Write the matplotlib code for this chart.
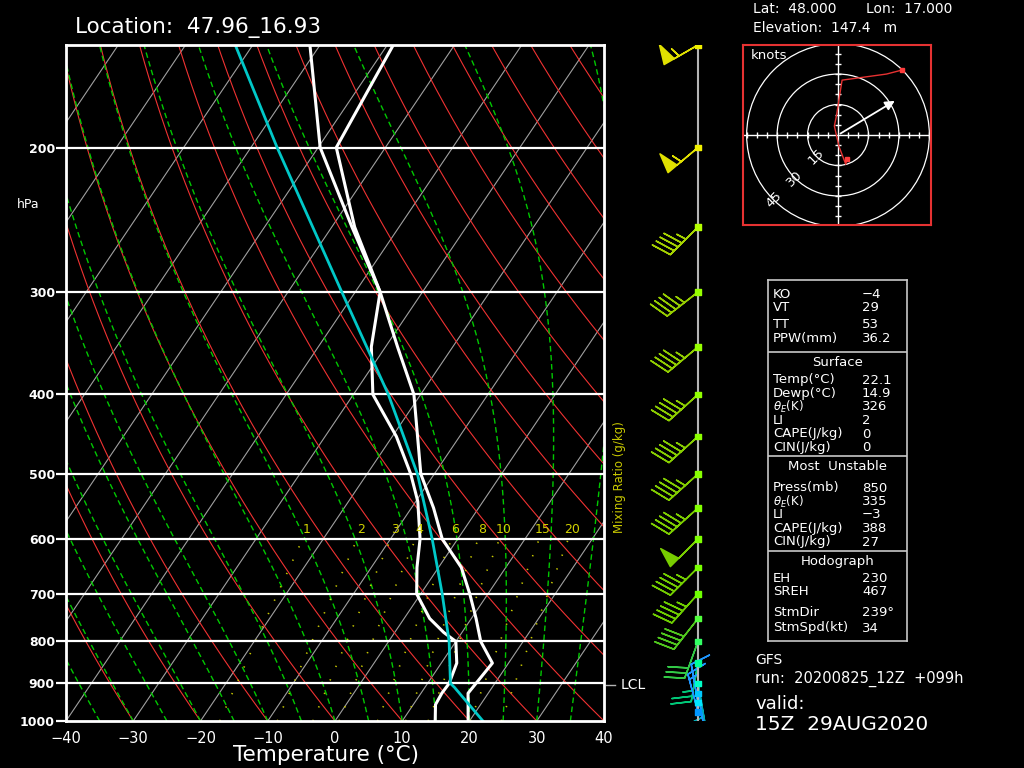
import numpy as np
import matplotlib
matplotlib.use('Agg')
import matplotlib.pyplot as plt
from matplotlib.transforms import Affine2D
from matplotlib.patches import Circle

# environmental sounding (hPa, degC)
p_temp = [1000, 925, 850, 800, 750, 700, 650, 600, 550, 500, 400, 350, 300, 250, 200, 150]
temp = [19.8, 17.0, 17.6, 13.7, 10.7, 7.3, 3.4, -2.3, -6.7, -12.0, -21.0, -28.2, -36.3, -46.6, -57.3, -59.1]

p_dewp = [1000, 955, 925, 900, 850, 800, 780, 750, 700, 650, 600, 540, 500, 450, 400, 350, 300, 250, 200, 150]
dewp = [14.9, 13.3, 13.1, 13.2, 12.3, 10.0, 7.3, 3.8, -0.6, -3.2, -5.6, -9.7, -13.5, -19.4, -27.1, -32.1, -36.3, -47.0, -59.7, -71.5]

# surface parcel path
p_parcel = [1000, 910, 900, 800, 700, 600, 500, 400, 300, 200, 150]
parcel = [22.0, 14.4, 13.4, 9.0, 3.2, -3.8, -12.5, -24.8, -42.0, -66.1, -82.6]
lcl_p = 903

# winds (knots, direction from)
p_wind = [150, 200, 250, 300, 350, 400, 450, 500, 550, 600, 650, 700, 750, 800, 850, 900, 925, 950, 975]
wspd = [55, 55, 45, 45, 45, 45, 45, 45, 45, 50, 45, 45, 40, 30, 25, 20, 10, 10, 15]
wdir = [240, 230, 225, 232, 230, 228, 228, 228, 228, 225, 225, 222, 218, 200, 190, 170, 170, 350, 345]
barb_cols = ['#e1e100', '#e1e100', '#a5d200', '#96cd00', '#91cd00', '#8ccd00', '#87cd00', '#82cd00',
             '#7dcd00', '#78cd00', '#73cd00', '#6ecd00', '#50c81e', '#32c846', '#00c878', '#00aab4',
             '#1e96ff', '#1e96ff', '#1e96ff']
dot_cols = ['#f0f000', '#f0f000', '#b4ff00', '#96ff00', '#96ff00', '#91ff00', '#8cff00', '#87ff00',
            '#82ff00', '#7dff00', '#78ff00', '#6eff00', '#50ff3c', '#32ff64', '#00ff96', '#00ffc8',
            '#00c8ff', '#00e6ff', '#0096ff']

# hodograph (knots)
hodo_u = [4.4, 3.8, 0.5, -1.8, -0.7, 0.7, 2.0, 23.9, 31.6]
hodo_v = [-11.8, -14.4, -5.7, 4.4, 9.8, 18.9, 27.0, 30.0, 32.0]
stm_dir, stm_spd = 239, 34

mix_ratios = [1, 2, 3, 4, 6, 8, 10, 15, 20]
p_ticks = [200, 300, 400, 500, 600, 700, 800, 900, 1000]
t_ticks = [-40, -30, -20, -10, 0, 10, 20, 30, 40]

index_rows = [
    ('item', 'KO', '\u22124', 14), ('item', 'VT', '29', 13.5),
    ('item', 'TT', '53', 17.5), ('item', 'PPW(mm)', '36.2', 13.5),
    ('line', '', '', 13.5),
    ('head', 'Surface', '', 10),
    ('item', 'Temp(\u00b0C)', '22.1', 18), ('item', 'Dewp(\u00b0C)', '14.9', 13.5),
    ('item', r'$\theta_E$(K)', '326', 13.5), ('item', 'LI', '2', 13.5),
    ('item', 'CAPE(J/kg)', '0', 13.5), ('item', 'CIN(J/kg)', '0', 13.5),
    ('line', '', '', 8.5),
    ('head', 'Most  Unstable', '', 10),
    ('item', 'Press(mb)', '850', 22), ('item', r'$\theta_E$(K)', '335', 13.5),
    ('item', 'LI', '\u22123', 13.5), ('item', 'CAPE(J/kg)', '388', 13.5),
    ('item', 'CIN(J/kg)', '27', 13.5),
    ('line', '', '', 9),
    ('head', 'Hodograph', '', 10),
    ('item', 'EH', '230', 17), ('item', 'SREH', '467', 13.5),
    ('item', 'StmDir', '239\u00b0', 21.5), ('item', 'StmSpd(kt)', '34', 15),
]

W, H = 1024, 768


def frac(x0, y0, x1, y1):
    return [x0 / W, 1 - y1 / H, (x1 - x0) / W, (y1 - y0) / H]


def moist_adiabat(t0, p):
    Rd, Cp, Lv, eps = 287.04, 1005.7, 2.501e6, 0.622

    def f(T, pp):
        es = 6.112 * np.exp(17.67 * (T - 273.15) / (T - 29.65))
        rs = eps * es / (pp - es)
        return (Rd * T + Lv * rs) / (Cp + Lv ** 2 * rs * eps / (Rd * T ** 2)) / pp

    T = t0 + 273.15
    out = [T]
    for i in range(1, len(p)):
        dp = p[i] - p[i - 1]
        k1 = f(T, p[i - 1])
        k2 = f(T + dp * k1, p[i])
        T = T + dp * (k1 + k2) / 2
        out.append(T)
    return np.array(out) - 273.15


def mixing_line(w, p):
    e = w / 1000 * p / (0.622 + w / 1000)
    a = np.log(e / 6.112)
    return 243.5 * a / (17.67 - a)


plt.rcParams['font.family'] = ['DejaVu Sans']
fig = plt.figure(figsize=(10.24, 7.68), dpi=100, facecolor='black')

# ---- skew-T ----
ax = fig.add_axes(frac(66, 45, 604, 721))
ax.set_facecolor('black')
ax.set_yscale('log')
ax.set_ylim(1000, 150)
ax.set_xlim(-40, 40)
ax.set_autoscale_on(False)
skew_tr = ax.transScale + ax.transLimits + Affine2D().skew(np.arctan(0.6742 * 676 / 538), 0) + ax.transAxes

pp = np.linspace(1000, 150, 430)
for t in range(-110, 41, 10):
    ax.plot([t, t], [1000, 150], transform=skew_tr, color='#a0a0a0', lw=0.8)
for th in range(-40, 161, 10):
    ax.plot((th + 273.15) * (pp / 1000) ** 0.2857 - 273.15, pp, transform=skew_tr,
            color='#f03232', lw=0.8)
for tw in range(-40, 46, 5):
    ax.plot(moist_adiabat(tw, pp), pp, transform=skew_tr, color='#00c800', lw=1.0,
            ls=(0, (4, 2.5)))
pm = np.linspace(1000, 600, 100)
for w in mix_ratios:
    ax.plot(mixing_line(w, pm), pm, transform=skew_tr, color='#c8c800', lw=1.2, ls=(0, (0.8, 8)))
    ax.text(mixing_line(w, 585.0), 585, str(w), transform=skew_tr, color='#d2d200',
            fontsize=9, ha='center', va='center')

for p in p_ticks[:-1]:
    ax.axhline(p, color='white', lw=1.6)

ax.plot(dewp, p_dewp, transform=skew_tr, color='white', lw=2.2)
ax.plot(temp, p_temp, transform=skew_tr, color='white', lw=2.2)
ax.plot(parcel, p_parcel, transform=skew_tr, color='#00c8c8', lw=2.0)

ax.set_yticks(p_ticks, labels=[str(p) for p in p_ticks])
ax.yaxis.set_minor_locator(matplotlib.ticker.NullLocator())
ax.set_xticks(t_ticks, labels=[str(t).replace('-', '\u2212') for t in t_ticks])
ax.tick_params(axis='y', colors='white', length=7, width=1.6, labelsize=9, pad=1)
ax.tick_params(axis='x', colors='white', length=0, labelsize=10.5, pad=7)
plt.setp(ax.get_yticklabels(), fontweight='bold')
for s in ax.spines.values():
    s.set_color('white')
    s.set_linewidth(2)

# LCL mark
ax.plot([1.004, 1.02], [lcl_p, lcl_p], transform=ax.get_yaxis_transform(), color='#b4b4b4',
        lw=1, clip_on=False)
ax.text(1.03, lcl_p, 'LCL', transform=ax.get_yaxis_transform(), color='white', fontsize=10,
        va='center', ha='left')

fig.text(75 / W, 1 - 28 / H, 'Location:  47.96_16.93', color='white', fontsize=15.5, va='center')
fig.text(326 / W, 1 - 755 / H, 'Temperature (\u00b0C)', color='white', fontsize=15.5,
         va='center', ha='center')
fig.text(28 / W, 1 - 204 / H, 'hPa', color='white', fontsize=9, va='center', ha='center')
fig.text(620 / W, 1 - 477 / H, 'Mixing Ratio (g/kg)', color='#c8c800', fontsize=8.5,
         va='center', ha='center', rotation=90)

# ---- wind barbs ----
bx = fig.add_axes(frac(640, 45, 756, 721))
bx.set_yscale('log')
bx.set_ylim(1000, 150)
bx.set_xlim(-58, 58)
bx.axis('off')
bx.axvline(0, color='#b4b4b4', lw=1.5)
d = np.radians(wdir)
u = -np.array(wspd) * np.sin(d)
v = -np.array(wspd) * np.cos(d)
bx.barbs(np.zeros(len(p_wind)), p_wind, u, v, length=7.5, barbcolor=barb_cols,
         flagcolor=barb_cols, linewidth=1.1, sizes=dict(height=0.5, spacing=0.14, width=0.3))
bx.scatter(np.zeros(len(p_wind)), p_wind, marker='s', s=14, c=dot_cols, zorder=3)

# ---- hodograph ----
hx = fig.add_axes(frac(743, 45, 931, 225))
hx.set_facecolor('black')
hx.set_xlim(-46.8, 45.8)
hx.set_ylim(-44.3, 44.3)
hx.set_xticks([])
hx.set_yticks([])
for s in hx.spines.values():
    s.set_color('#e63232')
    s.set_linewidth(1.5)
hx.axhline(0, color='white', lw=1.0)
hx.axvline(0, color='white', lw=1.0)
kt = [k for k in range(-45, 50, 5) if k != 0]
hx.plot(kt, np.zeros(len(kt)), ls='none', marker='|', ms=4.5, mew=1, color='white')
hx.plot(np.zeros(len(kt)), kt, ls='none', marker='_', ms=4.5, mew=1, color='white')
for r in [15, 30, 45]:
    hx.add_patch(Circle((0, 0), r, fill=False, ec='white', lw=0.9))
    a = np.radians(225)
    hx.text(r * np.cos(a), r * np.sin(a), str(r), color='white', fontsize=9.5, rotation=45,
            ha='center', va='center')
hx.plot(hodo_u, hodo_v, color='#e63232', lw=1.0)
hx.plot([hodo_u[0], hodo_u[-1]], [hodo_v[0], hodo_v[-1]], ls='none', marker='s', ms=3.5,
        color='#ff3c3c')
sd = np.radians(stm_dir)
hx.annotate('', xy=(-stm_spd * np.sin(sd), -stm_spd * np.cos(sd)), xytext=(0, 0),
            arrowprops=dict(arrowstyle='-|>', color='white', lw=1.3, mutation_scale=14))
hx.text(0.04, 0.94, 'knots', transform=hx.transAxes, color='white', fontsize=9.5, va='center')

fig.text(753 / W, 1 - 9 / H, 'Lat:  48.000', color='white', fontsize=10, va='center')
fig.text(866 / W, 1 - 9 / H, 'Lon:  17.000', color='white', fontsize=10, va='center')
fig.text(753 / W, 1 - 28 / H, 'Elevation:  147.4   m', color='white', fontsize=10, va='center')

# ---- indices table ----
tx = fig.add_axes(frac(768, 280, 907, 641))
tx.set_xlim(768, 907)
tx.set_ylim(641, 280)
tx.set_facecolor('black')
tx.set_xticks([])
tx.set_yticks([])
for s in tx.spines.values():
    s.set_color('#c8c8c8')
    s.set_linewidth(1.2)
y = 280
for kind, label, value, dy in index_rows:
    y += dy
    if kind == 'line':
        tx.axhline(y, color='#c8c8c8', lw=1.2)
    elif kind == 'head':
        tx.text(837.5, y, label, color='white', fontsize=9.5, ha='center', va='center')
    else:
        fs = 8.5 if label.startswith('$') else 9.5
        tx.text(773, y, label, color='white', fontsize=fs, va='center')
        tx.text(862, y, value, color='white', fontsize=9.5, va='center')

fig.text(755 / W, 1 - 660 / H, 'GFS', color='white', fontsize=10, va='center')
fig.text(755 / W, 1 - 679 / H, 'run:  20200825_12Z  +099h', color='white', fontsize=10.5,
         va='center')
fig.text(755 / W, 1 - 704 / H, 'valid:', color='white', fontsize=13, va='center')
fig.text(755 / W, 1 - 724 / H, '15Z  29AUG2020', color='white', fontsize=14.5, va='center')

fig.savefig('out.png', dpi=100, facecolor='black')
